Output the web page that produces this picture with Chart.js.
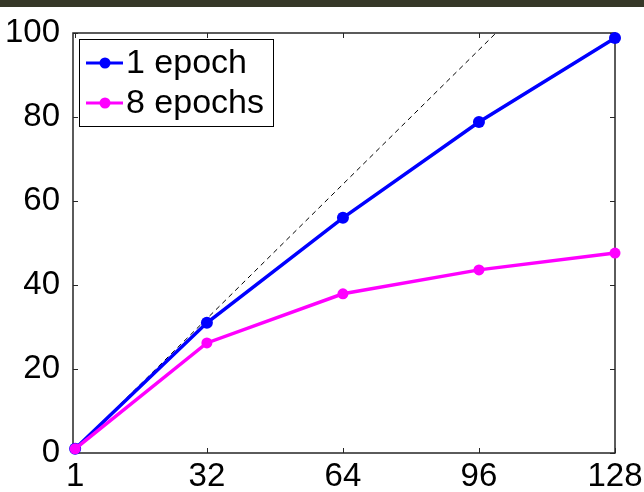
<!DOCTYPE html>
<html>
<head>
<meta charset="utf-8">
<script src="https://cdn.jsdelivr.net/npm/chart.js@4.4.0/dist/chart.umd.min.js"></script>
<style>
    html, body { margin: 0; padding: 0; background: #fff; }
    #band { height: 7px; background: #363828; }
    #wrap { width: 644px; height: 485px; }
</style>
</head>
<body>
<div id="band"></div>
<div id="wrap"><canvas id="chart" width="644" height="485"></canvas></div>
<script>
const xValues = [1, 32, 64, 96, 128];
const oneEpoch = [1, 31, 56, 78.8, 98.8];
const eightEpochs = [1, 26.2, 37.9, 43.6, 47.6];
const idealX = [1, 100];
const idealY = [1, 100];
const xTicks = [1, 32, 64, 96, 128];
const yTicks = [0, 20, 40, 60, 80, 100];
const seriesNames = ['1 epoch', '8 epochs'];
const seriesColors = ['#0000ff', '#ff00ff'];

const FONT = "'Liberation Sans', Arial, sans-serif";

function toPoints(xs, ys) {
    return xs.map((x, i) => ({ x: x, y: ys[i] }));
}

// box round the plot with inward ticks, matlab style
const framePlugin = {
    id: 'frame',
    beforeDatasetsDraw(chart) {
        const ctx = chart.ctx;
        const a = chart.chartArea;
        const xs = chart.scales.x;
        const ys = chart.scales.y;
        const len = 5;
        ctx.save();
        ctx.strokeStyle = '#262626';
        ctx.lineWidth = 1.5;
        ctx.strokeRect(a.left, a.top, a.right - a.left, a.bottom - a.top);
        ctx.lineWidth = 1;
        ctx.beginPath();
        xTicks.forEach(v => {
            const px = Math.round(xs.getPixelForValue(v)) + 0.5;
            ctx.moveTo(px, a.bottom); ctx.lineTo(px, a.bottom - len);
            ctx.moveTo(px, a.top); ctx.lineTo(px, a.top + len);
        });
        yTicks.forEach(v => {
            const py = Math.round(ys.getPixelForValue(v)) + 0.5;
            ctx.moveTo(a.left, py); ctx.lineTo(a.left + len, py);
            ctx.moveTo(a.right, py); ctx.lineTo(a.right - len, py);
        });
        ctx.stroke();
        ctx.restore();
    }
};

const legendPlugin = {
    id: 'boxLegend',
    afterDraw(chart) {
        const ctx = chart.ctx;
        const a = chart.chartArea;
        const left = a.left + 6;
        const top = a.top + 6;
        const w = 194;
        const h = 87;
        ctx.save();
        ctx.fillStyle = '#fff';
        ctx.fillRect(left, top, w, h);
        ctx.strokeStyle = '#000';
        ctx.lineWidth = 1;
        ctx.strokeRect(left + 0.5, top + 0.5, w, h);
        ctx.font = '34px ' + FONT;
        ctx.textBaseline = 'middle';
        seriesNames.forEach((name, i) => {
            const y = top + 24 + i * 40;
            ctx.strokeStyle = seriesColors[i];
            ctx.lineWidth = 3;
            ctx.beginPath();
            ctx.moveTo(left + 7, y);
            ctx.lineTo(left + 44, y);
            ctx.stroke();
            ctx.fillStyle = seriesColors[i];
            ctx.beginPath();
            ctx.arc(left + 26, y, 5.5, 0, Math.PI * 2);
            ctx.fill();
            ctx.fillStyle = '#000';
            ctx.fillText(name, left + 47, y + 1);
        });
        ctx.restore();
    }
};

new Chart(document.getElementById('chart'), {
    type: 'line',
    data: {
        datasets: [{
            label: seriesNames[1],
            data: toPoints(xValues, eightEpochs),
            borderColor: seriesColors[1],
            backgroundColor: seriesColors[1],
            borderWidth: 3.5,
            pointRadius: 5.5,
            pointBorderWidth: 0,
            clip: false
        }, {
            label: seriesNames[0],
            data: toPoints(xValues, oneEpoch),
            borderColor: seriesColors[0],
            backgroundColor: seriesColors[0],
            borderWidth: 3.5,
            pointRadius: 6,
            pointBorderWidth: 0,
            clip: false
        }, {
            label: 'ideal',
            data: toPoints(idealX, idealY),
            borderColor: '#000',
            borderWidth: 1,
            borderDash: [5, 4],
            pointRadius: 0
        }]
    },
    options: {
        responsive: false,
        animation: false,
        events: [],
        layout: { padding: { left: 0, right: 29, top: 26, bottom: 0 } },
        plugins: {
            legend: { display: false },
            tooltip: { enabled: false }
        },
        scales: {
            x: {
                type: 'linear',
                min: 0.5,
                max: 128,
                afterBuildTicks: scale => { scale.ticks = xTicks.map(v => ({ value: v })); },
                afterFit: scale => { scale.height = 39; },
                grid: { display: false },
                border: { display: false },
                ticks: {
                    autoSkip: false,
                    maxRotation: 0,
                    padding: -4,
                    color: '#000',
                    font: { family: FONT, size: 33 }
                }
            },
            y: {
                min: 0,
                max: 100,
                afterBuildTicks: scale => { scale.ticks = yTicks.map(v => ({ value: v })); },
                afterFit: scale => { scale.width = 73; },
                grid: { display: false },
                border: { display: false },
                ticks: {
                    padding: 5,
                    color: '#000',
                    font: { family: FONT, size: 33 }
                }
            }
        }
    },
    plugins: [framePlugin, legendPlugin]
});
</script>
</body>
</html>
